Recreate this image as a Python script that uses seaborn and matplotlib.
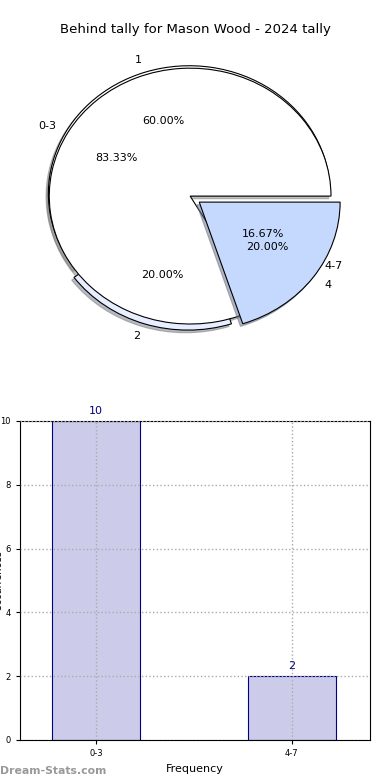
import matplotlib
matplotlib.use('Agg')
import matplotlib.pyplot as plt
import matplotlib.patches as mpatches
import seaborn as sns
import pandas as pd

# data
group_labels = ['0-3', '4-7']
group_counts = [10, 2]
detail_labels = ['1', '2', '4']
detail_counts = [3, 1, 1]

fig = plt.figure(figsize=(3.9, 7.8), dpi=100)

# ---- pie part (two pies on the same axes) ----
ax1 = fig.add_axes([0.036, 0.5436, 0.903, 0.41])

shadow_opts = {'ox': -0.012, 'oy': -0.015, 'shade': 0.5}
w_in, t_in, a_in = ax1.pie(detail_counts, labels=detail_labels, autopct='%.2f%%',
                           explode=(0.02, 0.05, 0.08), shadow=shadow_opts,
                           colors=['white', '#e6eeff', '#c5d9ff'],
                           wedgeprops={'edgecolor': 'black', 'linewidth': 0.8},
                           textprops={'fontsize': 8})
w_out, t_out, a_out = ax1.pie(group_counts, labels=group_labels, autopct='%.2f%%',
                              shadow=shadow_opts, colors=['white', 'white'],
                              wedgeprops={'edgecolor': 'black', 'linewidth': 0.8},
                              textprops={'fontsize': 8})

# second wedge of the outer pie is not seen in the picture
w_out[1].set_visible(False)
for p in ax1.patches:
    if isinstance(p, mpatches.Shadow) and p.patch is w_out[1]:
        p.set_visible(False)

# blue wedge sits on top of everything
w_in[2].set_zorder(3)
for p in ax1.patches:
    if isinstance(p, mpatches.Shadow) and p.patch is w_in[2]:
        p.set_zorder(2.9)

ax1.set_aspect('auto')
ax1.set_xlim(-1.25, 1.25)
ax1.set_ylim(-1.25, 1.25)

fig.text(0.5, 1 - 30 / 780, 'Behind tally for Mason Wood - 2024 tally',
         ha='center', va='center', fontsize=9.5)

# ---- bar part ----
ax2 = fig.add_axes([0.0513, 0.0513, 0.897, 0.409])
df = pd.DataFrame({'group': group_labels, 'count': group_counts})
sns.barplot(data=df, x='group', y='count', ax=ax2, width=0.45,
            color='#ccccea', edgecolor='#000080', linewidth=0.8, saturation=1)

for i, v in enumerate(group_counts):
    ax2.text(i, v + 0.15, str(v), ha='center', va='bottom', fontsize=8, color='#000080')

ax2.set_xlim(-0.39, 1.4)
ax2.set_ylim(0, 10)
ax2.set_yticks(range(0, 11, 2))
ax2.tick_params(labelsize=6, length=3)
ax2.grid(True, linestyle=':', color='#aaaaaa', linewidth=1)
ax2.set_axisbelow(False)
for s in ax2.spines.values():
    s.set_color('black')
    s.set_linewidth(0.8)
ax2.set_xlabel('Frequency', fontsize=8)
ax2.set_ylabel('Occurrences', fontsize=7)
# label sits mostly past the left edge, as in the reference
ax2.yaxis.set_label_coords(-0.048, 0.5)

fig.text(0.0, 9 / 780, 'Dream-Stats.com', ha='left', va='center',
         fontsize=7.8, color='#999999', fontweight='bold')

fig.savefig('out.png', dpi=100)
